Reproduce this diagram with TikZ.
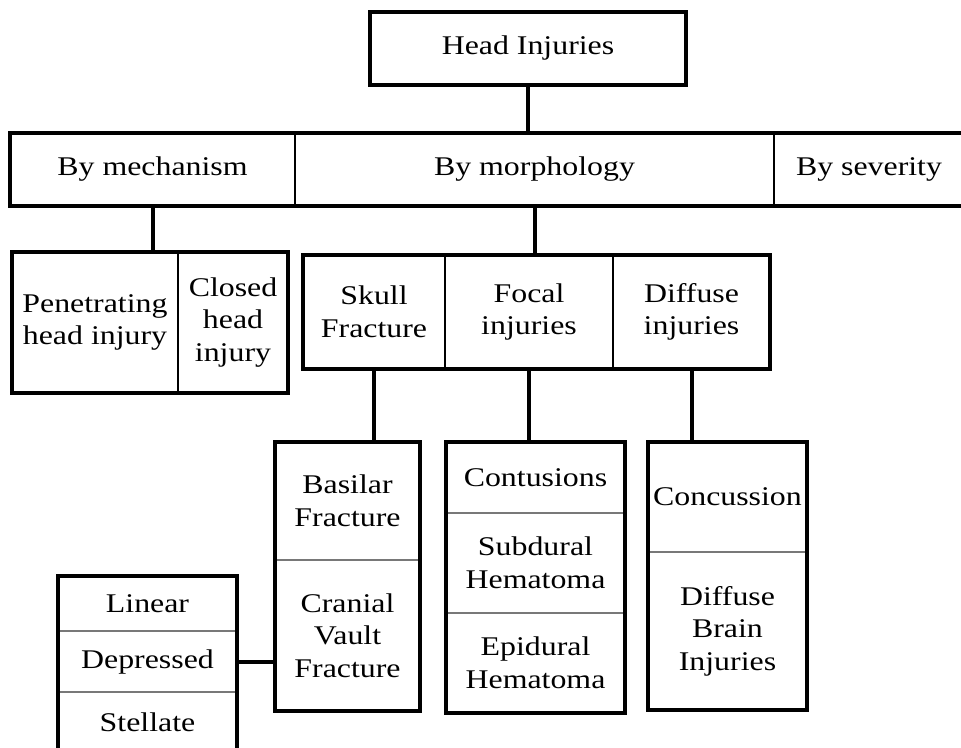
\documentclass[tikz,border=0pt]{standalone}
\usepackage{fontspec}
\setmainfont[FakeStretch=1.18]{Liberation Serif}
\usepackage{tikz}
\usetikzlibrary{positioning}
\definecolor{divgray}{RGB}{120,120,120}
\tikzstyle{cell}=[rectangle,inner sep=0pt,outer sep=0pt,align=center,
                  font=\fontsize{27}{32.5}\selectfont]
\tikzstyle{frame}=[line width=4pt,draw=black]
\tikzstyle{vsep}=[line width=2pt,draw=black]
\tikzstyle{hsep}=[line width=1.5pt,draw=divgray]
\tikzstyle{link}=[line width=4pt,draw=black]

\begin{document}
\begin{tikzpicture}[x=1pt,y=-1pt]
      \useasboundingbox (0,0) rectangle (961,747);
      \node[cell,minimum width=316pt,minimum height=73pt] (head) at (528,48.5) {Head Injuries};

      \node[cell,minimum width=285pt,minimum height=73pt] (mech) at (152.5,169.5) {By mechanism};
      \node[cell,right=0pt of mech,minimum width=479pt,minimum height=73pt] (morph) {By morphology};
      \node[cell,right=0pt of morph,minimum width=190pt,minimum height=73pt] (sev) {By severity};

      \node[cell,minimum width=166pt,minimum height=141pt] (pen) at (95,322.5) {Penetrating\\head injury};
      \node[cell,right=0pt of pen,minimum width=110pt,minimum height=141pt] (closed) {Closed\\head\\injury};

      \node[cell,minimum width=142pt,minimum height=114pt] (skull) at (374,312) {Skull\\Fracture};
      \node[cell,right=0pt of skull,minimum width=168pt,minimum height=114pt] (focal) {Focal\\injuries};
      \node[cell,right=0pt of focal,minimum width=157pt,minimum height=114pt] (diffuse) {Diffuse\\injuries};

      \node[cell,minimum width=145pt,minimum height=118pt] (basilar) at (347.5,501) {Basilar\\Fracture};
      \node[cell,below=0pt of basilar,minimum width=145pt,minimum height=151pt] (cranial) {Cranial\\Vault\\Fracture};

      \node[cell,minimum width=179pt,minimum height=71pt] (cont) at (535.5,477.5) {Contusions};
      \node[cell,below=0pt of cont,minimum width=179pt,minimum height=100pt] (subdural) {Subdural\\Hematoma};
      \node[cell,below=0pt of subdural,minimum width=179pt,minimum height=100pt] (epidural) {Epidural\\Hematoma};

      \node[cell,minimum width=159pt,minimum height=110pt] (conc) at (727.5,497) {Concussion};
      \node[cell,below=0pt of conc,minimum width=159pt,minimum height=158pt] (dbi) {Diffuse\\Brain\\Injuries};

      \node[cell,minimum width=179pt,minimum height=55pt] (linear) at (147.5,603.5) {Linear};
      \node[cell,below=0pt of linear,minimum width=179pt,minimum height=61pt] (depressed) {Depressed};
      \node[cell,below=0pt of depressed,minimum width=179pt,minimum height=60pt] (stellate) {Stellate};

      \draw[vsep] (mech.north east)--(mech.south east);
      \draw[vsep] (morph.north east)--(morph.south east);
      \draw[vsep] (pen.north east)--(pen.south east);
      \draw[vsep] (skull.north east)--(skull.south east);
      \draw[vsep] (focal.north east)--(focal.south east);
      \draw[hsep] (basilar.south west)--(basilar.south east);
      \draw[hsep] (cont.south west)--(cont.south east);
      \draw[hsep] (subdural.south west)--(subdural.south east);
      \draw[hsep] (conc.south west)--(conc.south east);
      \draw[hsep] (linear.south west)--(linear.south east);
      \draw[hsep] (depressed.south west)--(depressed.south east);

      \draw[frame] (head.north west) rectangle (head.south east);
      \draw[frame] (mech.north west) rectangle (sev.south east);
      \draw[frame] (pen.north west) rectangle (closed.south east);
      \draw[frame] (skull.north west) rectangle (diffuse.south east);
      \draw[frame] (basilar.north west) rectangle (cranial.south east);
      \draw[frame] (cont.north west) rectangle (epidural.south east);
      \draw[frame] (conc.north west) rectangle (dbi.south east);
      \draw[frame] (linear.north west) rectangle (stellate.south east);

      \draw[link] (head.south)--(head.south |- morph.north);
      \draw[link] (mech.south)--(mech.south |- pen.north);
      \draw[link] (morph.south)--(morph.south |- focal.north);
      \draw[link] (skull.south)--(skull.south |- basilar.north);
      \draw[link] (focal.south)--(focal.south |- cont.north);
      \draw[link] (diffuse.south)--(diffuse.south |- conc.north);
      \draw[link] (depressed.east)--(depressed.east -| cranial.west);
    \end{tikzpicture}
\end{document}
